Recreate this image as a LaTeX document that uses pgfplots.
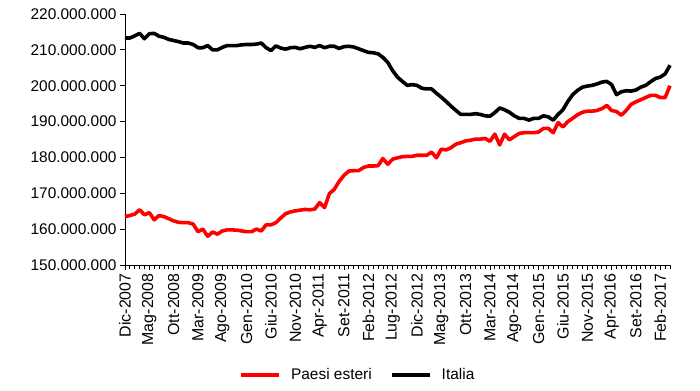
\documentclass[border=0pt]{standalone}
\usepackage{fontspec}
\setmainfont{Liberation Sans}
\usepackage{pgfplots}
\usepackage{pgfplotstable}
\pgfplotsset{compat=1.18}
\pgfplotstableread{
i ita est
0 213.3 163.5
1 213.3 163.8
2 213.9 164.2
3 214.6 165.4
4 213.1 164.0
5 214.5 164.6
6 214.6 162.6
7 213.8 163.8
8 213.5 163.5
9 212.9 162.9
10 212.6 162.3
11 212.3 161.9
12 211.9 161.8
13 211.9 161.8
14 211.5 161.4
15 210.6 159.3
16 210.6 160.0
17 211.2 158.0
18 210.0 159.2
19 210.0 158.6
20 210.7 159.5
21 211.2 159.8
22 211.2 159.8
23 211.2 159.7
24 211.4 159.5
25 211.5 159.3
26 211.5 159.3
27 211.6 160.0
28 211.9 159.5
29 210.6 161.2
30 209.8 161.2
31 211.1 161.8
32 210.5 163.1
33 210.2 164.3
34 210.6 164.8
35 210.7 165.1
36 210.3 165.3
37 210.7 165.5
38 211.0 165.4
39 210.7 165.6
40 211.2 167.4
41 210.6 166.0
42 211.0 169.9
43 211.0 171.1
44 210.4 173.3
45 210.9 175.0
46 211.0 176.2
47 210.8 176.3
48 210.3 176.3
49 209.8 177.2
50 209.3 177.6
51 209.2 177.6
52 208.9 177.7
53 207.9 179.7
54 206.5 178.1
55 204.2 179.5
56 202.4 179.9
57 201.2 180.2
58 200.1 180.3
59 200.3 180.3
60 200.1 180.6
61 199.3 180.6
62 199.1 180.6
63 199.1 181.5
64 197.9 179.9
65 196.8 182.3
66 195.6 182.1
67 194.3 182.7
68 193.1 183.7
69 192.0 184.1
70 192.0 184.6
71 192.0 184.8
72 192.2 185.1
73 192.0 185.1
74 191.6 185.3
75 191.5 184.5
76 192.5 186.5
77 193.8 183.5
78 193.3 186.5
79 192.6 184.9
80 191.6 185.8
81 190.9 186.7
82 190.9 186.9
83 190.4 186.9
84 190.9 186.9
85 190.9 187.1
86 191.6 188.1
87 191.3 188.1
88 190.4 186.9
89 192.0 189.7
90 193.3 188.5
91 195.6 190.0
92 197.5 190.9
93 198.7 191.9
94 199.6 192.6
95 199.9 192.9
96 200.1 192.9
97 200.5 193.1
98 201.0 193.6
99 201.2 194.5
100 200.3 193.1
101 197.5 192.8
102 198.3 191.8
103 198.6 193.1
104 198.5 194.8
105 198.8 195.5
106 199.6 196.1
107 200.1 196.7
108 201.1 197.3
109 202.0 197.3
110 202.4 196.7
111 203.3 196.7
112 205.7 200.0
}\data
\begin{document}
\begin{tikzpicture}
\path[use as bounding box] (-125bp,-126bp) rectangle (575bp,265bp);
\begin{axis}[
  at={(0,0)}, anchor=south west,
  scale only axis, width=545bp, height=251bp,
  xmin=0, xmax=112, ymin=150, ymax=220,
  axis lines*=left,
  axis line style={-, line width=0.8bp, black},
  tick align=outside,
  major tick length=5bp, minor tick length=4bp,
  tick style={line width=0.8bp, black},
  xtick={0,5,...,110},
  minor xtick={0,...,112},
  xticklabels={Dic-2007,Mag-2008,Ott-2008,Mar-2009,Ago-2009,Gen-2010,Giu-2010,Nov-2010,Apr-2011,Set-2011,Feb-2012,Lug-2012,Dic-2012,Mag-2013,Ott-2013,Mar-2014,Ago-2014,Gen-2015,Giu-2015,Nov-2015,Apr-2016,Set-2016,Feb-2017},
  x tick label style={rotate=90, anchor=east, font=\fontsize{16}{18}\selectfont},
  ytick={150,160,...,220},
  yticklabels={150.000.000,160.000.000,170.000.000,180.000.000,190.000.000,200.000.000,210.000.000,220.000.000},
  y tick label style={font=\fontsize{15.5}{18}\selectfont},
  clip=false,
  legend columns=2,
  legend style={at={(0.427,-0.438)}, anchor=center, draw=none, fill=none,
    font=\fontsize{15.5}{18}\selectfont,
    /tikz/every odd column/.append style={column sep=8bp},
    /tikz/every even column/.append style={column sep=16bp}},
  legend image code/.code={\draw[#1, line width=4bp] (0bp,0bp) -- (38bp,0bp);},
]
\addplot[red, line width=3.6bp, line join=round] table[x=i, y=est] {\data};
\addlegendentry{Paesi esteri}
\addplot[black, line width=3.6bp, line join=round] table[x=i, y=ita] {\data};
\addlegendentry{Italia}
\end{axis}
\end{tikzpicture}
\end{document}
